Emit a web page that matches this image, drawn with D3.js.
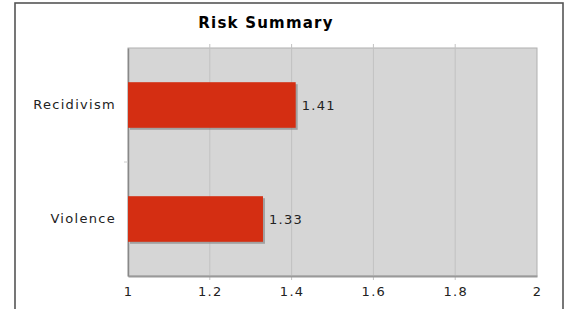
<!DOCTYPE html>
<html lang="en">
<head>
<meta charset="utf-8">
<title>Risk Summary</title>
<script src="https://d3js.org/d3.v7.min.js"></script>
<style>
  html, body { margin: 0; padding: 0; background: #fff; }
  svg { display: block; }
  .lbl { font-family: "DejaVu Sans", Verdana, sans-serif; font-size: 13px; letter-spacing: 1.3px; fill: #222; }
  .title { font-family: "DejaVu Sans", Verdana, sans-serif; font-size: 15px; font-weight: bold; letter-spacing: 1.2px; fill: #000; }
</style>
</head>
<body>
<svg id="chart" width="569" height="309"></svg>
<script>
  // data
  const categories = ["Recidivism", "Violence"];
  const values = [1.41, 1.33];
  const tickValues = [1, 1.2, 1.4, 1.6, 1.8, 2];

  const svg = d3.select("#chart");
  const plot = {left: 128, right: 537, top: 48, bottom: 276};

  // outer frame (bottom runs off the picture)
  svg.append("rect")
     .attr("x", 15).attr("y", 3)
     .attr("width", 548).attr("height", 320)
     .attr("fill", "#fff")
     .attr("stroke", "#555").attr("stroke-width", 1.6);

  svg.append("text")
     .attr("class", "title")
     .attr("x", 266).attr("y", 28)
     .attr("text-anchor", "middle")
     .text("Risk Summary");

  const x = d3.scaleLinear().domain([1, 2]).range([plot.left, plot.right]);
  const y = d3.scaleBand().domain(categories).range([plot.top, plot.bottom]).paddingInner(0.6).paddingOuter(0.3);

  // plot background
  svg.append("rect")
     .attr("x", plot.left).attr("y", plot.top)
     .attr("width", plot.right - plot.left).attr("height", plot.bottom - plot.top)
     .attr("fill", "#d6d6d6")
     .attr("stroke", "#b0b0b0").attr("stroke-width", 1);

  // grid
  svg.selectAll(".grid")
     .data(tickValues.slice(1, -1))
     .enter().append("line")
     .attr("x1", d => x(d)).attr("x2", d => x(d))
     .attr("y1", plot.top - 4).attr("y2", plot.bottom + 4)
     .attr("stroke", "#c2c2c2").attr("stroke-width", 1);

  // bottom axis
  const xAxis = d3.axisBottom(x).tickValues(tickValues).tickSize(0).tickPadding(11)
                  .tickFormat(d => d3.format("~g")(d));
  const gx = svg.append("g").attr("transform", `translate(0,${plot.bottom})`).call(xAxis);
  gx.select(".domain").attr("stroke", "#999").attr("stroke-width", 2);
  gx.selectAll("text").attr("class", "lbl").attr("font-size", null).attr("font-family", null);

  // left axis
  const yAxis = d3.axisLeft(y).tickSize(0).tickPadding(12);
  const gy = svg.append("g").attr("transform", `translate(${plot.left},0)`).call(yAxis);
  gy.select(".domain").attr("stroke", "#888").attr("stroke-width", 1.5);
  gy.selectAll("text").attr("class", "lbl").attr("font-size", null).attr("font-family", null);

  // small separator tick between categories
  svg.append("line")
     .attr("x1", plot.left - 4).attr("x2", plot.left)
     .attr("y1", (plot.top + plot.bottom) / 2).attr("y2", (plot.top + plot.bottom) / 2)
     .attr("stroke", "#ccc");

  // bar shadows
  svg.selectAll(".shadow")
     .data(values)
     .enter().append("rect")
     .attr("x", x(1) + 2)
     .attr("y", (d, i) => y(categories[i]) + 2)
     .attr("width", d => x(d) - x(1))
     .attr("height", y.bandwidth())
     .attr("fill", "#8a8a8a").attr("opacity", 0.7);

  // bars
  svg.selectAll(".bar")
     .data(values)
     .enter().append("rect")
     .attr("x", x(1))
     .attr("y", (d, i) => y(categories[i]))
     .attr("width", d => x(d) - x(1))
     .attr("height", y.bandwidth())
     .attr("fill", "#d42e12");

  // value labels
  svg.selectAll(".val")
     .data(values)
     .enter().append("text")
     .attr("class", "lbl")
     .attr("x", d => x(d) + 6)
     .attr("y", (d, i) => y(categories[i]) + y.bandwidth() / 2)
     .attr("dy", "0.35em")
     .text(d => d3.format(".2f")(d));
</script>
</body>
</html>
